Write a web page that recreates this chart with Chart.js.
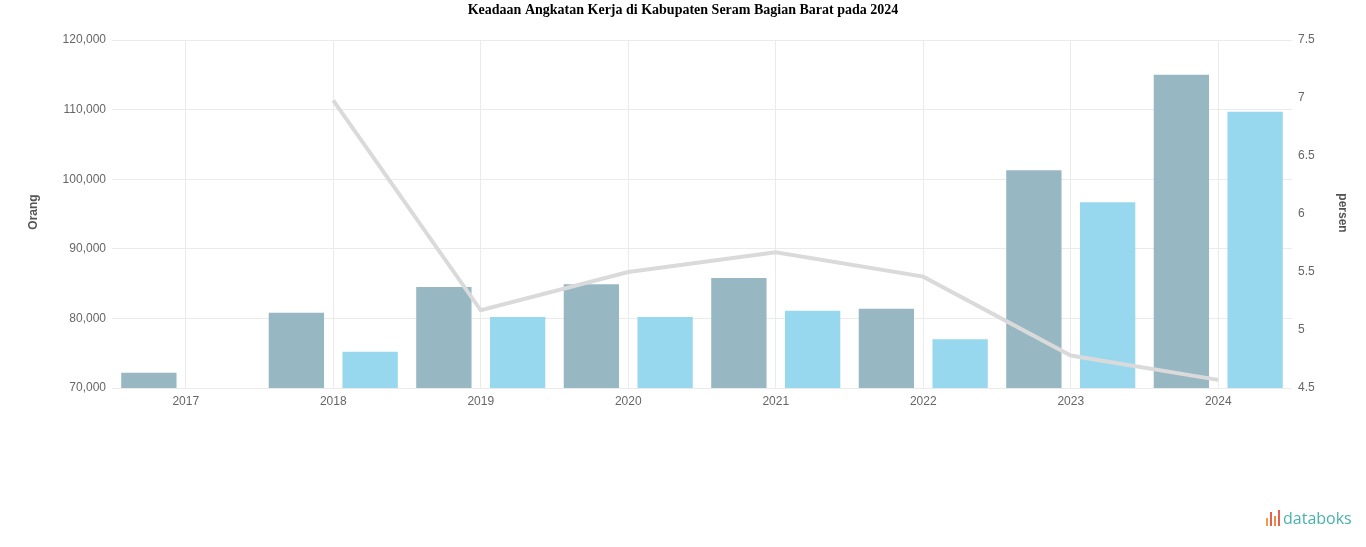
<!DOCTYPE html>
<html>
<head>
<meta charset="utf-8">
<script src="https://cdn.jsdelivr.net/npm/chart.js@4.4.1/dist/chart.umd.min.js"></script>
<style>
  html, body { margin: 0; padding: 0; background: #fff; }
  #wrap { position: relative; width: 1366px; height: 547px; }
  #logo { position: absolute; left: 1266px; top: 507px; font-family: "Open Sans", "DejaVu Sans", sans-serif; font-size: 16px; color: #47b3ad; display: flex; align-items: center; }
  #logo .ic { display: inline-flex; align-items: flex-end; height: 16px; margin-right: 3px; gap: 2px; }
  #logo .ic span { display: inline-block; width: 2px; }
</style>
</head>
<body>
<div id="wrap">
  <canvas id="c" width="1366" height="547"></canvas>
  <div id="logo"><span class="ic"><span style="height:8px;background:#f39c4a"></span><span style="height:14px;background:#e8604c"></span><span style="height:10px;background:#f08a3c"></span><span style="height:16px;background:#e8604c"></span></span>databoks</div>
</div>
<script>
const years = ['2017', '2018', '2019', '2020', '2021', '2022', '2023', '2024'];
const angkatanKerja = [72200, 80800, 84500, 84900, 85800, 81400, 101300, 115000];
const bekerja = [null, 75200, 80200, 80200, 81100, 77000, 96700, 109700];
const tpt = [null, 6.98, 5.17, 5.50, 5.67, 5.46, 4.78, 4.57];
const titleText = 'Keadaan Angkatan Kerja di Kabupaten Seram Bagian Barat pada 2024';
const leftTitle = 'Orang';
const rightTitle = 'persen';

const textPlugin = {
  id: 'texts',
  afterDraw(chart) {
    const ctx = chart.ctx;
    ctx.save();
    ctx.font = 'bold 14px "Liberation Serif", "DejaVu Serif", serif';
    ctx.fillStyle = '#000';
    ctx.textAlign = 'center';
    ctx.textBaseline = 'middle';
    ctx.fillText(titleText, 683, 10);
    ctx.font = 'bold 12px "Liberation Sans", Arial, sans-serif';
    ctx.fillStyle = '#555';
    ctx.translate(34, 212);
    ctx.rotate(-Math.PI / 2);
    ctx.fillText(leftTitle, 0, 0);
    ctx.restore();
    ctx.save();
    ctx.font = 'bold 12px "Liberation Sans", Arial, sans-serif';
    ctx.fillStyle = '#555';
    ctx.textAlign = 'center';
    ctx.textBaseline = 'middle';
    ctx.translate(1342, 213);
    ctx.rotate(Math.PI / 2);
    ctx.fillText(rightTitle, 0, 0);
    ctx.restore();
  }
};

const tickFont = { family: '"Liberation Sans", Arial, sans-serif', size: 12 };

new Chart(document.getElementById('c'), {
  type: 'bar',
  data: {
    labels: years,
    datasets: [
      { label: 'Tingkat Pengangguran Terbuka', type: 'line', data: tpt, yAxisID: 'y1',
        borderColor: '#dadada', borderWidth: 4, pointRadius: 0, tension: 0, order: 0, spanGaps: false },
      { label: 'Angkatan Kerja', data: angkatanKerja, backgroundColor: '#97b7c3', yAxisID: 'y', order: 1 },
      { label: 'Bekerja', data: bekerja, backgroundColor: '#98d8ee', yAxisID: 'y', order: 1 }
    ]
  },
  plugins: [textPlugin],
  options: {
    responsive: false,
    animation: false,
    layout: { padding: { top: 40, bottom: 139, left: 0, right: 0 } },
    datasets: { bar: { categoryPercentage: 1.0, barPercentage: 0.75 } },
    plugins: { legend: { display: false }, title: { display: false }, tooltip: { enabled: false } },
    scales: {
      x: {
        grid: { offset: false, color: '#ebebeb', drawTicks: false },
        border: { display: false },
        ticks: { color: '#666', font: tickFont, padding: 6 },
        afterFit(s) { s.height = 20; }
      },
      y: {
        position: 'left', min: 70000, max: 120000,
        ticks: { stepSize: 10000, color: '#666', font: tickFont, padding: 6,
          callback: v => v.toLocaleString('en-US') },
        grid: { color: '#ebebeb', drawTicks: false },
        border: { display: false },
        afterFit(s) { s.width = 112; }
      },
      y1: {
        position: 'right', min: 4.5, max: 7.5,
        ticks: { stepSize: 0.5, color: '#666', font: tickFont, padding: 6,
          callback: v => String(Math.round(v * 10) / 10) },
        grid: { display: false, drawTicks: false },
        border: { display: false },
        afterFit(s) { s.width = 74; }
      }
    }
  }
});
</script>
</body>
</html>
